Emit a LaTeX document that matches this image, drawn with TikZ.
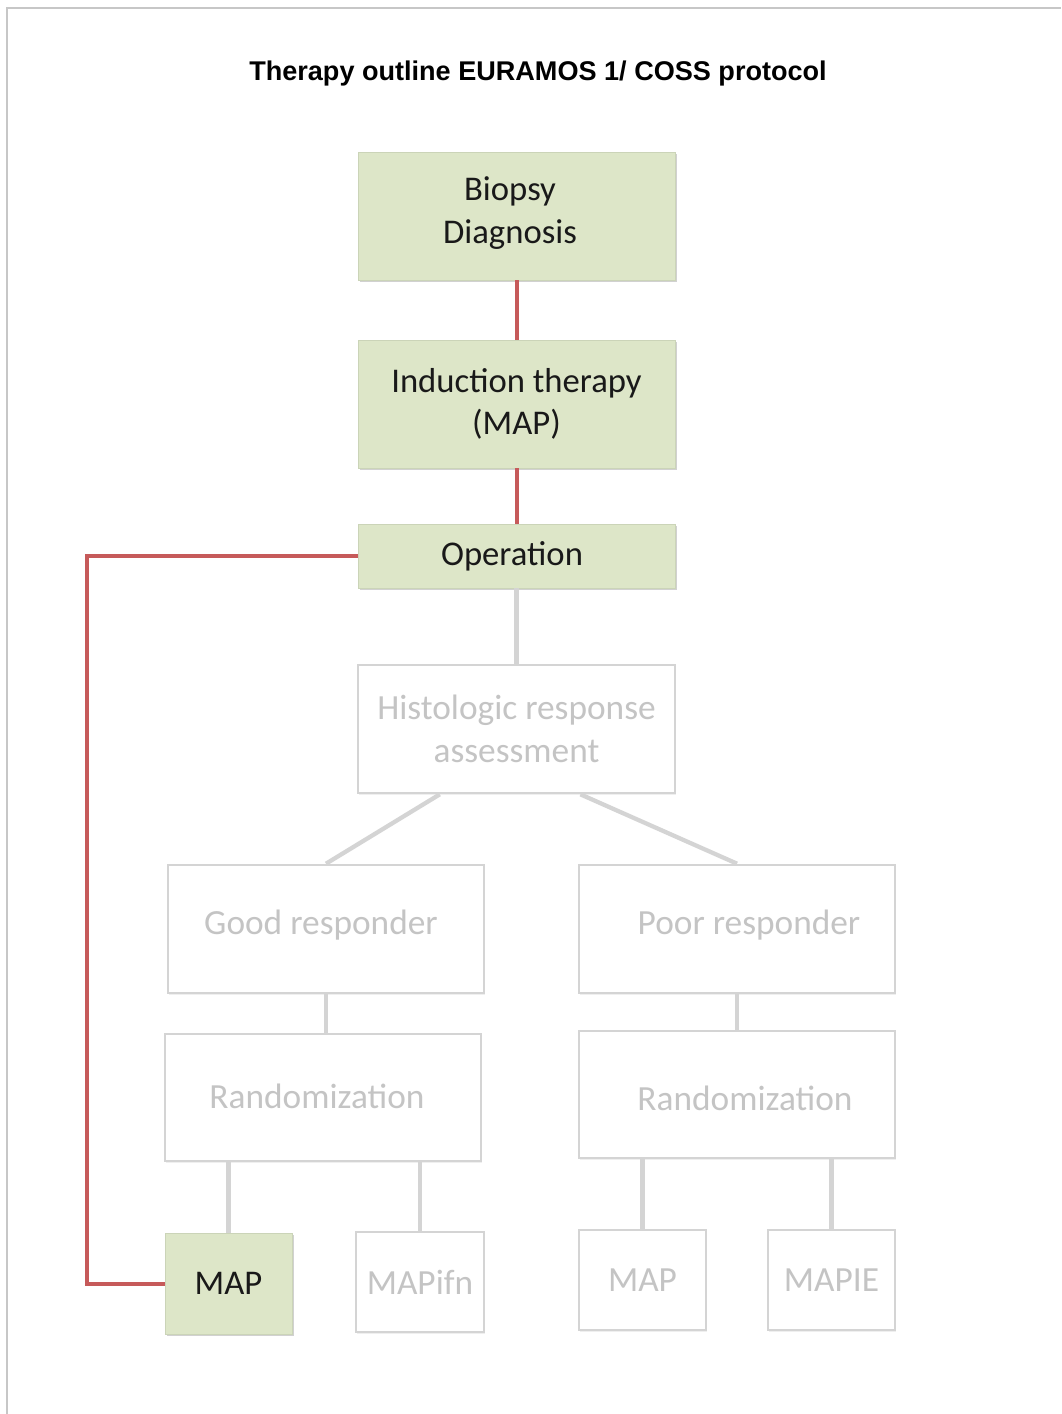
\documentclass[tikz,border=0pt]{standalone}
\usepackage{fontspec}
\setmainfont{Carlito}
\newfontfamily\titlefont{Liberation Sans}
\usetikzlibrary{shadows,calc}
\definecolor{boxgreen}{HTML}{DDE6C8}
\definecolor{linered}{HTML}{C65A5A}
\definecolor{lightgray}{HTML}{D4D4D4}
\definecolor{graytext}{HTML}{C4C4C4}
\tikzset{
  greenbox/.style={rectangle, fill=boxgreen, draw=boxgreen!92!black, line width=0.5pt, text=black!90, align=center, font=\fontsize{26}{32}\selectfont, inner sep=0pt,
    drop shadow={shadow xshift=1.2pt, shadow yshift=-1.8pt, opacity=0.4, fill=black!45}},
  graybox/.style={rectangle, fill=white, draw=lightgray, line width=2pt, text=graytext, align=center, font=\fontsize{26.5}{32}\selectfont, inner sep=0pt,
    drop shadow={shadow xshift=1pt, shadow yshift=-1.4pt, opacity=0.15, fill=black!40}},
  graylabel/.style={text=graytext, font=\fontsize{26.5}{32}\selectfont},
  redline/.style={draw=linered, line width=3pt},
  grayline/.style={draw=lightgray, line width=3.2pt},
}
\begin{document}
\begin{tikzpicture}[x=0.75pt, y=-0.75pt]
\useasboundingbox (0,0) rectangle (1061,1414);
\fill[white] (0,0) rectangle (1061,1414);
\draw[draw=black!22, line width=1.5pt] (7,1414) -- (7,8) -- (1061,8);

\node[font=\titlefont\bfseries\fontsize{20.3}{24}\selectfont, text=black] (title) at (538,73) {Therapy outline EURAMOS 1/ COSS protocol};

% green boxes
\node[greenbox, minimum width=237.75pt, minimum height=96pt] (bio) at (516.5,216) {};
\node[text=black!90, align=center, font=\fontsize{26}{32}\selectfont] (biot) at (510,213) {Biopsy\\Diagnosis};
\node[greenbox, minimum width=237.75pt, minimum height=96pt] (ind) at (516.5,404) {Induction therapy\\(MAP)};
\node[greenbox, minimum width=237.75pt, minimum height=48pt] (op) at (516.5,556) {};
\node[text=black!90, font=\fontsize{26}{32}\selectfont] (opt) at (512,556) {Operation};

% gray boxes
\node[graybox, minimum width=237.75pt, minimum height=96pt] (hist) at (516.5,729) {Histologic response\\assessment};
\node[graybox, minimum width=237pt, minimum height=96pt] (good) at (326,929) {};
\node[graylabel] (goodt) at (321,925) {Good responder};
\node[graybox, minimum width=237pt, minimum height=96pt] (poor) at (737,929) {};
\node[graylabel] (poort) at (749,925) {Poor responder};
\node[graybox, minimum width=237pt, minimum height=95.25pt] (randL) at (323,1097.5) {};
\node[graylabel] (randLt) at (317,1096) {Randomization};
\node[graybox, minimum width=237pt, minimum height=95.25pt] (randR) at (737,1094.5) {};
\node[graylabel] (randRt) at (745,1098) {Randomization};

\node[greenbox, minimum width=95.25pt, minimum height=75.75pt] (mapL) at (228.5,1283.5) {MAP};
\node[graybox, minimum width=96pt, minimum height=75pt] (mapifn) at (420,1282) {MAPifn};
\node[graybox, minimum width=95.25pt, minimum height=75pt] (mapR) at (642.5,1280) {MAP};
\node[graybox, minimum width=95.25pt, minimum height=75pt] (mapie) at (831.5,1280) {MAPIE};

% red connectors
\draw[redline] (bio.south) -- (ind.north);
\draw[redline] (ind.south) -- (op.north);
\coordinate (corner) at (87,556);
\draw[redline] (op.west) -- (corner) |- (mapL.west);

% gray connectors
\draw[grayline] (op.south) -- (hist.north);
\draw[grayline] ($(hist.south west)!0.26!(hist.south east)$) -- (good.north);
\draw[grayline] ($(hist.south west)!0.70!(hist.south east)$) -- (poor.north);
\draw[grayline] (good.south) -- (good.south |- randL.north);
\draw[grayline] (poor.south) -- (randR.north);
\draw[grayline] (mapL.north |- randL.south) -- (mapL.north);
\draw[grayline] (mapifn.north |- randL.south) -- (mapifn.north);
\draw[grayline] (mapR.north |- randR.south) -- (mapR.north);
\draw[grayline] (mapie.north |- randR.south) -- (mapie.north);
\end{tikzpicture}
\end{document}
